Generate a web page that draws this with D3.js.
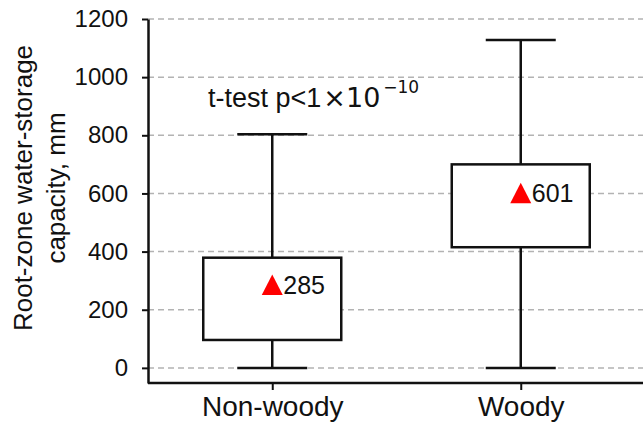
<!DOCTYPE html>
<html>
<head>
<meta charset="utf-8">
<script src="https://cdn.jsdelivr.net/npm/d3@7"></script>
<style>
  body { margin: 0; background: #fff; }
  text { font-family: Arial, "Liberation Sans", sans-serif; fill: #111; }
</style>
</head>
<body>
<div id="chart"></div>
<script>
// box plot values (mm)
var groups = ["Non-woody", "Woody"];
var whiskerLow = [0, 0];
var q1 = [96, 415];
var q3 = [379, 700];
var whiskerHigh = [804, 1128];
var means = [285, 601];
var yTicks = [0, 200, 400, 600, 800, 1000, 1200];

var W = 643, H = 429;
var margin = {top: 19, right: 0, bottom: 46, left: 148};

var svg = d3.select("#chart").append("svg")
    .attr("width", W)
    .attr("height", H);

var x = d3.scalePoint()
    .domain(groups)
    .range([margin.left, W + 2])
    .padding(0.5);

var y = d3.scaleLinear()
    .domain([-52, 1200])
    .range([H - margin.bottom, margin.top]);

// dashed grid lines
svg.append("g").selectAll("line.grid")
    .data(yTicks)
    .enter().append("line")
    .attr("class", "grid")
    .attr("x1", margin.left)
    .attr("x2", W)
    .attr("y1", function (d) { return y(d); })
    .attr("y2", function (d) { return y(d); })
    .attr("stroke", "#b3b3b3")
    .attr("stroke-width", 1.5)
    .attr("stroke-dasharray", "6,4");

// y axis
var yAxis = svg.append("g")
    .attr("transform", "translate(" + margin.left + ",0)")
    .call(d3.axisLeft(y).tickValues(yTicks).tickFormat(d3.format("d"))
        .tickSize(6).tickPadding(14).tickSizeOuter(0));
yAxis.select(".domain").attr("stroke", "#111").attr("stroke-width", 2.5);
yAxis.selectAll(".tick line").attr("stroke", "#111").attr("stroke-width", 2);
yAxis.selectAll(".tick text")
    .style("font-size", "24px")
    .attr("fill", "#111");

// x axis
var xAxis = svg.append("g")
    .attr("transform", "translate(0," + (H - margin.bottom) + ")")
    .call(d3.axisBottom(x).tickSize(7).tickPadding(6).tickSizeOuter(0));
xAxis.select(".domain").attr("stroke", "#111").attr("stroke-width", 2.5)
    .attr("d", "M" + margin.left + ",0H" + W);
xAxis.selectAll(".tick line").attr("stroke", "#111").attr("stroke-width", 2);
xAxis.selectAll(".tick text")
    .style("font-size", "28px")
    .attr("fill", "#111");

// y title
var yTitle = svg.append("text")
    .attr("transform", "translate(0," + 188 + ") rotate(-90)")
    .attr("text-anchor", "middle")
    .style("font-size", "26px");
yTitle.append("tspan").attr("x", 0).attr("y", 32).text("Root-zone water-storage");
yTitle.append("tspan").attr("x", 0).attr("y", 65).text("capacity, mm");

var boxW = 138, capW = 70;
var data = groups.map(function (g, i) {
    return {name: g, lo: whiskerLow[i], q1: q1[i], q3: q3[i], hi: whiskerHigh[i], mean: means[i]};
});

var box = svg.append("g").selectAll("g.box")
    .data(data)
    .enter().append("g")
    .attr("class", "box");

// whisker stems
box.append("line")
    .attr("x1", function (d) { return x(d.name); })
    .attr("x2", function (d) { return x(d.name); })
    .attr("y1", function (d) { return y(d.lo); })
    .attr("y2", function (d) { return y(d.hi); })
    .attr("stroke", "#111").attr("stroke-width", 2.5);

// caps
["lo", "hi"].forEach(function (k) {
    box.append("line")
        .attr("x1", function (d) { return x(d.name) - capW / 2; })
        .attr("x2", function (d) { return x(d.name) + capW / 2; })
        .attr("y1", function (d) { return y(d[k]); })
        .attr("y2", function (d) { return y(d[k]); })
        .attr("stroke", "#111").attr("stroke-width", 2.5);
});

// boxes
box.append("rect")
    .attr("x", function (d) { return x(d.name) - boxW / 2; })
    .attr("width", boxW)
    .attr("y", function (d) { return y(d.q3); })
    .attr("height", function (d) { return y(d.q1) - y(d.q3); })
    .attr("fill", "#fff")
    .attr("stroke", "#111").attr("stroke-width", 2.5);

// mean markers
box.append("path")
    .attr("transform", function (d) { return "translate(" + x(d.name) + "," + y(d.mean) + ")"; })
    .attr("d", "M0,-10.5L10.5,10L-10.5,10Z")
    .attr("fill", "#f00");

box.append("text")
    .attr("x", function (d) { return x(d.name) + 11; })
    .attr("y", function (d) { return y(d.mean) + 9; })
    .style("font-size", "25px")
    .text(function (d) { return d.mean; });

// t-test annotation
var ann = svg.append("text")
    .attr("x", 208)
    .attr("y", 107)
    .style("font-size", "27px");
ann.append("tspan").text("t-test p<1");
ann.append("tspan").style("font-family", "'DejaVu Sans'").attr("dx", 2).text("\u00d710");
ann.append("tspan").style("font-family", "'DejaVu Sans'").style("font-size", "17px")
    .attr("dy", -14).attr("dx", 3).text("\u221210");
</script>
</body>
</html>
